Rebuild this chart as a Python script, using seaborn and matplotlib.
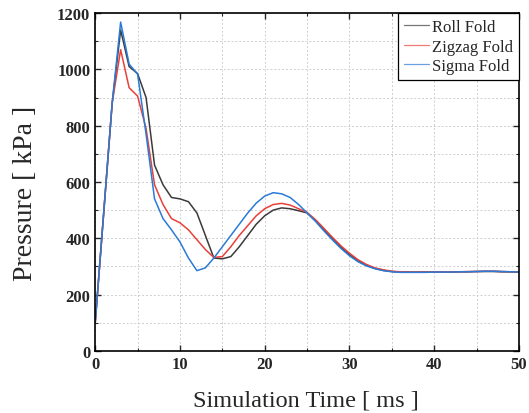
import numpy as np
import pandas as pd
import matplotlib
matplotlib.use("Agg")
import matplotlib.pyplot as plt
from matplotlib.ticker import MultipleLocator
import seaborn as sns

# tempo de simulação (ms)
time_ms = list(range(0, 51))

roll_fold = [100, 490, 880, 1140, 1010, 985, 900, 660, 590, 545,
             540, 530, 490, 410, 330, 327, 335, 370, 410, 450,
             480, 500, 508, 505, 498, 490, 462, 430, 398, 368,
             342, 320, 304, 293, 286, 282, 280, 280, 280, 280,
             280, 280, 280, 281, 281, 282, 282, 282, 281, 281, 280]
zigzag_fold = [100, 490, 880, 1070, 935, 905, 790, 590, 520, 470,
               455, 430, 395, 360, 332, 335, 370, 410, 445, 480,
               505, 520, 524, 518, 505, 492, 466, 435, 403, 373,
               347, 324, 307, 295, 288, 283, 281, 280, 280, 280,
               280, 280, 281, 281, 282, 282, 283, 283, 282, 281, 281]
sigma_fold = [100, 490, 880, 1168, 1019, 983, 770, 540, 470, 430,
              387, 330, 285, 295, 330, 370, 410, 450, 490, 525,
              550, 562, 558, 545, 520, 490, 460, 426, 394, 364,
              338, 317, 302, 292, 285, 281, 279, 279, 279, 279,
              280, 280, 280, 281, 281, 282, 283, 283, 282, 281, 280]

series_names = ["Roll Fold", "Zigzag Fold", "Sigma Fold"]
series_colors = ["#3a3a3a", "#e8403a", "#2a7ad6"]

df = pd.DataFrame({
    "t": time_ms * 3,
    "p": roll_fold + zigzag_fold + sigma_fold,
    "serie": sum([[n] * len(time_ms) for n in series_names], []),
})

sns.set_style("ticks")
plt.rcParams["font.family"] = ["Liberation Serif", "DejaVu Serif"]

fig, ax = plt.subplots(figsize=(5.29, 4.14), dpi=100)
fig.subplots_adjust(left=0.180, right=0.981, bottom=0.150, top=0.966)

sns.lineplot(data=df, x="t", y="p", hue="serie", palette=series_colors,
             hue_order=series_names, linewidth=1.1, ax=ax)

ax.set_xlim(0, 50)
ax.set_ylim(0, 1200)
ax.xaxis.set_major_locator(MultipleLocator(10))
ax.xaxis.set_minor_locator(MultipleLocator(5))
ax.yaxis.set_major_locator(MultipleLocator(200))
ax.yaxis.set_minor_locator(MultipleLocator(100))
ax.tick_params(which="both", direction="in", top=True, right=True)
ax.tick_params(which="major", length=4, width=1.0, labelsize=12)
ax.tick_params(which="minor", length=2.5, width=0.8)
for lab in ax.get_xticklabels() + ax.get_yticklabels():
    lab.set_fontweight("bold")

ax.grid(True, which="both", linestyle=(0, (2, 2)), color="#cfcfcf", linewidth=0.7)
for s in ax.spines.values():
    s.set_linewidth(1.2)
    s.set_color("black")

ax.set_xlabel("Simulation Time [ ms ]", fontsize=17.5)
ax.set_ylabel("Pressure [ kPa ]", fontsize=20)
ax.xaxis.set_label_coords(0.498, -0.113)
ax.yaxis.set_label_coords(-0.135, 0.47)

leg = ax.legend(loc="upper right", fontsize=12, frameon=True, fancybox=False,
                borderaxespad=0, handlelength=1.5, handletextpad=0.2,
                labelspacing=0.22, borderpad=0.35)
leg.get_frame().set_edgecolor("black")
leg.get_frame().set_linewidth(0.9)
leg.get_frame().set_alpha(1)
for h in leg.get_lines():
    h.set_linewidth(0.9)
    h.set_alpha(0.7)

plt.savefig("out.png", dpi=100)
plt.close()
